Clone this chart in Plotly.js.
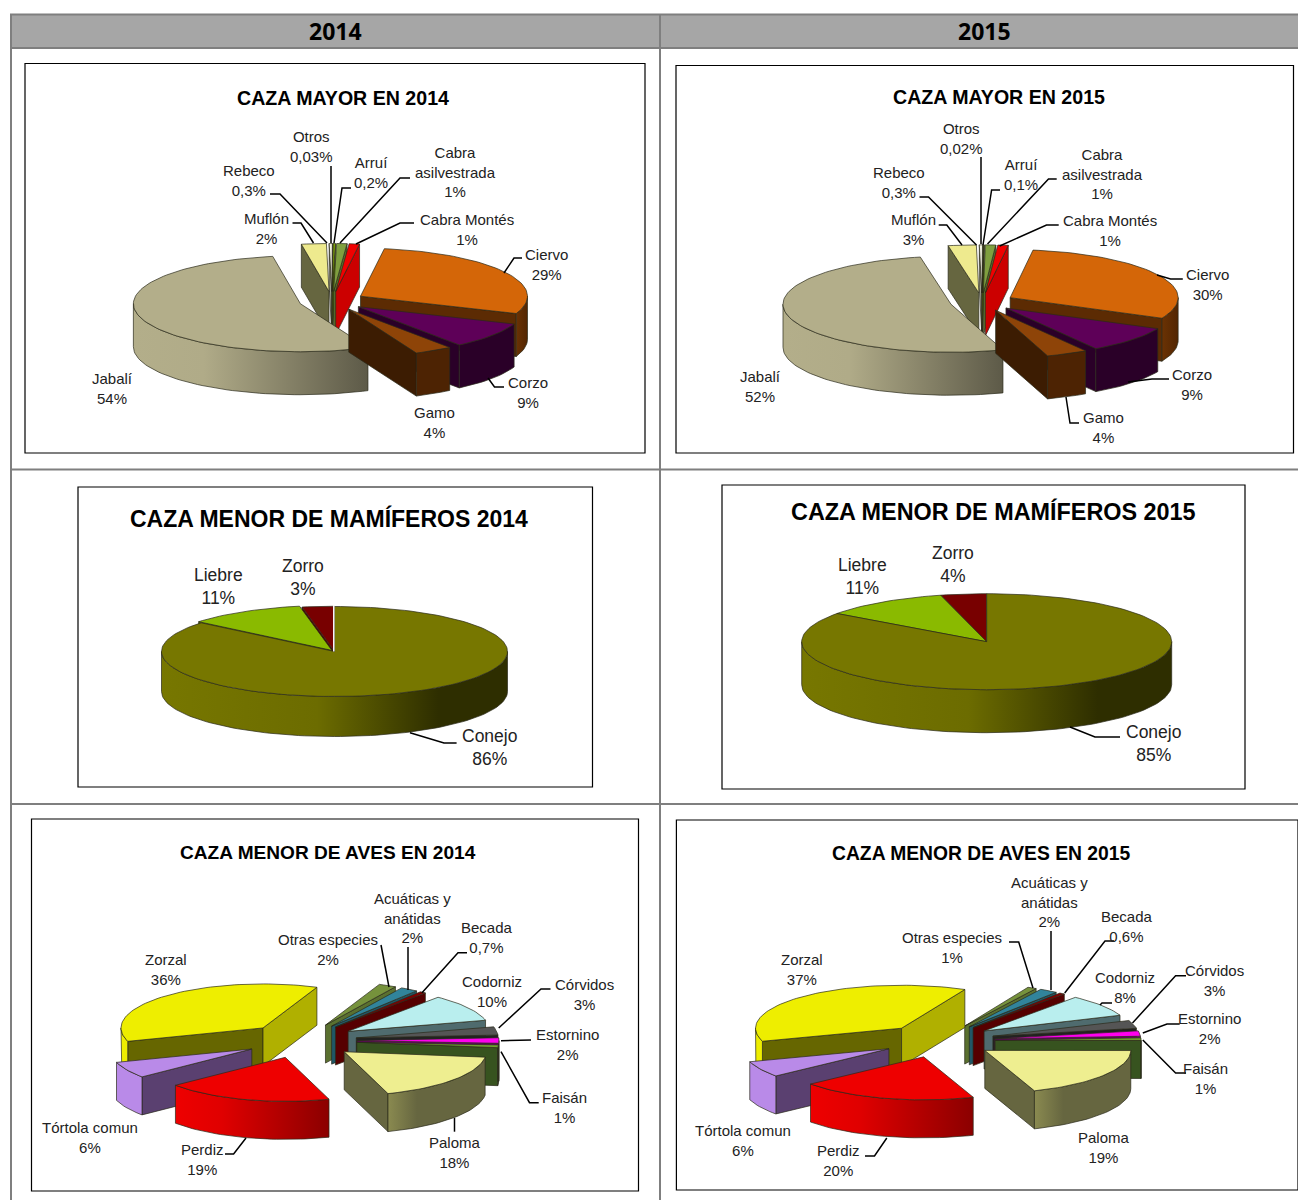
<!DOCTYPE html>
<html><head><meta charset="utf-8">
<script src="https://cdn.plot.ly/plotly-3.0.1.min.js"></script>
<style>html,body{margin:0;padding:0;background:#fff}#c{width:1298px;height:1200px}</style>
</head><body><div id="c"></div>
<script>
// ---- data, clockwise from the chart's first slice ----
const mayorNames = ['Arruí','Cabra asilvestrada','Cabra Montés','Ciervo','Corzo','Gamo','Jabalí','Muflón','Rebeco','Otros'];
const mayor2014Values = [0.2,1,1,28.6,8.8,3.7,54,2.4,0.3,0.03];
const mayor2014Text = ['0,2%','1%','1%','29%','9%','4%','54%','2%','0,3%','0,03%'];
const mayor2015Values = [0.1,1,1,30,9,4,52.3,2.7,0.3,0.02];
const mayor2015Text = ['0,1%','1%','1%','30%','9%','4%','52%','3%','0,3%','0,02%'];
const mamNames = ['Conejo','Liebre','Zorro'];
const mam2014Values = [86,11,3];
const mam2014Text = ['86%','11%','3%'];
const mam2015Values = [85,11,4];
const mam2015Text = ['85%','11%','4%'];
const avesNames = ['Otras especies','Acuáticas y anátidas','Becada','Codorniz','Córvidos','Estornino','Faisán','Paloma','Perdiz','Tórtola comun','Zorzal'];
const aves2014Values = [2,2,0.7,10,3,2,1,18,19,6,36];
const aves2014Text = ['2%','2%','0,7%','10%','3%','2%','1%','18%','19%','6%','36%'];
const aves2015Values = [1,2,0.6,8.3,3,2,1,19.4,19.6,6,37];
const aves2015Text = ['1%','2%','0,6%','8%','3%','2%','1%','19%','20%','6%','37%'];

// ---- styles: top, start wall, end wall, outer wall colour scale ----
const flat = c => [[0,c],[1,c]];
const sliceStyle = {
 'Arruí':['#8fbc00','#5f7d00','#5f7d00',flat('#6f9200')],
 'Cabra asilvestrada':['#7f9f3f','#55702a','#55702a',flat('#6a8530')],
 'Cabra Montés':['#f00000','#c80000','#cc0000',flat('#cc0000')],
 'Ciervo':['#d46608','#5c2b03','#5c2b03',[[0,'#6a3204'],[1,'#532602']]],
 'Corzo':['#5e0058','#2a0028','#2a0028',flat('#2a0028')],
 'Gamo':['#8e4408','#3c1c02','#3c1c02',flat('#4d2303')],
 'Jabalí':['#b3ae8a','#66634e','#66634e',[[0,'#b3ae8a'],[0.3,'#b0ab88'],[1,'#5d5a48']]],
 'Muflón':['#eeea8e','#666640','#666640',flat('#666640')],
 'Rebeco':['#f2f2e0','#a0a090','#a0a090',flat('#a0a090')],
 'Otros':['#f09000','#a06000','#a06000',flat('#a06000')],
 'Conejo':['#777700','#555500','#555500',[[0,'#777700'],[0.45,'#6c6c00'],[0.8,'#2e2e00'],[1,'#2e2e00']]],
 'Liebre':['#8aba00','#5a7a00','#5a7a00',flat('#5a7a00')],
 'Zorro':['#780000','#500000','#500000',flat('#500000')],
 'Otras especies':['#76923c','#5a7030','#5a7030',flat('#5a7030')],
 'Acuáticas y anátidas':['#31849b','#205867','#205867',flat('#205867')],
 'Becada':['#800000','#560000','#560000',flat('#560000')],
 'Codorniz':['#b9eeee','#4f6b6e','#4f6b6e',flat('#4f6b6e')],
 'Córvidos':['#555555','#222222','#222222',flat('#222222')],
 'Estornino':['#ff00ee','#700070','#700070',flat('#700070')],
 'Faisán':['#6fa030','#37531f','#37531f',flat('#37531f')],
 'Paloma':['#eeee90','#666640','#666640',[[0,'#8a8a50'],[0.3,'#666640'],[1,'#666640']]],
 'Perdiz':['#ee0000','#900000','#8b0000',[[0,'#ee0000'],[0.3,'#e00000'],[1,'#8b0000']]],
 'Tórtola comun':['#b98ae8','#5a4070','#5a4070',flat('#b98ae8')],
 'Zorzal':['#eeee00','#666600','#b0b000',flat('#eeee00')]
};

// ---- chart layouts ----
const labelFont = 'Liberation Sans, Arial, sans-serif';
const charts = [
 {names:mayorNames, values:mayor2014Values, text:mayor2014Text, start:0.3, cx:332, cy:301, rx:167, ry:48, depth:43, explode:33,
  box:[25,63.5,645,453], title:'CAZA MAYOR EN 2014', tp:[343,98], tsize:19.6, lsize:15,
  labels:{'Otros':[311,146],'Rebeco':[249,180],'Arruí':[371,172],'Cabra asilvestrada':[455,172],'Cabra Montés':[467,229],'Muflón':[266,228],'Ciervo':[546,264],'Corzo':[528,392],'Gamo':[434,422],'Jabalí':[112,388]},
  leaders:[[[331,166],[331,243]],[[270,194],[280,194],[327,243]],[[351,188],[342,188],[334,243]],[[410,178],[400,178],[340,243]],[[414,223],[400,223],[356,244]],[[292.5,223],[301,223],[313.5,243]],[[522,258],[514,258],[504,273]],[[504,387],[494.5,387],[488,378]]]},
 {names:mayorNames, values:mayor2015Values, text:mayor2015Text, start:0.3, cx:982, cy:302, rx:168, ry:48, depth:43, explode:32,
  box:[676,65.5,1293.5,453], title:'CAZA MAYOR EN 2015', tp:[999,97], tsize:19.6, lsize:15,
  labels:{'Otros':[961,138],'Rebeco':[899,182],'Arruí':[1021,174],'Cabra asilvestrada':[1102,174],'Cabra Montés':[1110,230],'Muflón':[913,229],'Ciervo':[1207,284],'Corzo':[1192,384],'Gamo':[1103,427],'Jabalí':[760,386]},
  leaders:[[[981,157],[981,244]],[[919.5,197],[928.5,197],[976.5,245]],[[1000,190],[991.6,190],[983,245]],[[1056.7,179],[1048.5,179],[987.5,244]],[[1058.7,225],[1046.5,225],[999.7,246]],[[938.7,225],[946.8,225],[962,245]],[[1182.8,279],[1170.6,279],[1157,275]],[[1169,379],[1152,379],[1128,382]],[[1079,423],[1070,423],[1066,397]]]},
 {names:mamNames, values:mam2014Values, text:mam2014Text, start:0, cx:334.5, cy:651.5, rx:173, ry:45, depth:40, explode:[0,5,1],
  box:[78,487,592.5,787], title:'CAZA MENOR DE MAMÍFEROS 2014', tp:[329,518], tsize:23, lsize:17.5,
  labels:{'Liebre':[218,586],'Zorro':[303,577],'Conejo':[489,747]},
  white:[[333.8,605],[333.8,651.5]],
  leaders:[[[456.6,743],[444,743],[410,732.7]]]},
 {names:mamNames, values:mam2015Values, text:mam2015Text, start:0, cx:986.7, cy:641.7, rx:185, ry:48, depth:43, explode:[0,0,0],
  box:[722,485,1245,789], title:'CAZA MENOR DE MAMÍFEROS 2015', tp:[993,511], tsize:23.4, lsize:17.5,
  labels:{'Liebre':[862,576],'Zorro':[953,564],'Conejo':[1153,743]},
  leaders:[[[1120,737],[1095,737],[1070,727]]]},
 {names:avesNames, values:aves2014Values, text:aves2014Text, start:22.3, cx:301, cy:1040.7, rx:142, ry:44, depth:38, explode:56,
  box:[31.5,819,638.5,1191], title:'CAZA MENOR DE AVES EN 2014', tp:[328,852], tsize:19.1, lsize:15,
  labels:{'Otras especies':[328,949],'Acuáticas y anátidas':[412,918],'Becada':[487,937],'Codorniz':[492,991],'Córvidos':[584,994],'Estornino':[567,1044],'Faisán':[564,1107],'Paloma':[455,1152],'Perdiz':[202,1159],'Tórtola comun':[90,1137],'Zorzal':[166,969]},
  leaders:[[[381,945],[389,987]],[[408,947],[408,990]],[[467,952.7],[458,952.7],[422,992.7]],[[550.5,989],[541,989],[498.7,1028]],[[531,1040],[501,1040.7]],[[538.7,1102.7],[529.5,1102.7],[501,1051.7]],[[454.5,1118],[454.5,1131.7]],[[225,1154],[233.6,1154],[246,1138]]]},
 {names:avesNames, values:aves2015Values, text:aves2015Text, start:25.7, cx:938.6, cy:1040.8, rx:146, ry:43, depth:38, explode:56.5,
  box:[676.4,820,1298,1190], title:'CAZA MENOR DE AVES EN 2015', tp:[981,853], tsize:19.3, lsize:15,
  labels:{'Otras especies':[952,947],'Acuáticas y anátidas':[1049,902],'Becada':[1127,926],'Codorniz':[1125,987],'Córvidos':[1214,980],'Estornino':[1209,1028],'Faisán':[1205,1078],'Paloma':[1104,1147],'Perdiz':[838,1160],'Tórtola comun':[743,1140],'Zorzal':[802,969]},
  leaders:[[[1009,942],[1018.7,942],[1033,988]],[[1051,931],[1051,990]],[[1114,941],[1105,941],[1064.7,993]],[[1112,1003],[1102,1003],[1100,1005]],[[1186,975.7],[1175.6,975.7],[1132.5,1023]],[[1179.7,1024],[1167,1024],[1142.8,1033]],[[1186,1073],[1175.6,1073],[1142.8,1040]],[[865,1156],[874.5,1156],[886.8,1138]]]}
];
const labelBreaks = {'Cabra asilvestrada':'Cabra<br>asilvestrada','Acuáticas y anátidas':'Acuáticas y<br>anátidas'};

// ---- build traces from the values ----
const rad = d => d*Math.PI/180;
const traces = [], annotations = [], shapes = [];
function poly(xs, ys, scale, edge){
  traces.push({type:'scatter', mode:'lines', x:xs, y:ys, fill:'toself', hoverinfo:'skip', showlegend:false,
    line:{color:edge, width:0.7},
    fillgradient:{type:'horizontal', colorscale:scale}});
}
function drawPie(ch){
  const total = ch.values.reduce((a,b)=>a+b,0);
  let ang = ch.start;
  const slices = ch.values.map((v,i)=>{
    const span = v/total*360, s = {name:ch.names[i], t1:ang, t2:ang+span, m:ang+span/2,
      e:Array.isArray(ch.explode)?ch.explode[i]:ch.explode};
    ang += span; return s;
  });
  slices.sort((a,b)=>Math.cos(rad(b.m))-Math.cos(rad(a.m)));
  for(const s of slices){
    const st = sliceStyle[s.name];
    const sx = ch.cx + s.e*Math.sin(rad(s.m)), sy = ch.cy - s.e*Math.cos(rad(s.m))*ch.ry/ch.rx;
    const P = t => [sx+ch.rx*Math.sin(rad(t)), sy-ch.ry*Math.cos(rad(t))];
    const edge = '#2a2a1a';
    const radial = (t,c)=>{const p=P(t);
      poly([sx,p[0],p[0],sx,sx],[sy,p[1],p[1]+ch.depth,sy+ch.depth,sy],flat(c),edge);};
    if(Math.sin(rad(s.t1))<-1e-6) radial(s.t1,st[1]);
    if(Math.sin(rad(s.t2))>1e-6) radial(s.t2,st[2]);
    // outer wall, only where it faces the viewer
    for(const [lo,hi] of [[90,270],[450,630]]){
      const a=Math.max(s.t1,lo), b=Math.min(s.t2,hi);
      if(b<=a) continue;
      const n=Math.max(2,Math.ceil((b-a)/2)), xs=[], ys=[];
      for(let k=0;k<=n;k++){const p=P(a+(b-a)*k/n); xs.push(p[0]); ys.push(p[1]);}
      for(let k=n;k>=0;k--){const p=P(a+(b-a)*k/n); xs.push(p[0]); ys.push(p[1]+ch.depth);}
      xs.push(xs[0]); ys.push(ys[0]);
      // the gradient always runs left to right on the page
      poly(xs,ys,st[3],edge);
    }
    // top face
    const n=Math.max(2,Math.ceil((s.t2-s.t1)/2)), xs=[sx], ys=[sy];
    for(let k=0;k<=n;k++){const p=P(s.t1+(s.t2-s.t1)*k/n); xs.push(p[0]); ys.push(p[1]);}
    xs.push(sx); ys.push(sy);
    poly(xs,ys,flat(st[0]),edge);
  }
  // chart frame
  shapes.push({type:'rect',xref:'x',yref:'y',x0:ch.box[0],y0:ch.box[1],x1:ch.box[2],y1:ch.box[3],line:{color:'#000',width:1.2},layer:'below'});
  annotations.push({xref:'x',yref:'y',x:ch.tp[0],y:ch.tp[1],text:'<b>'+ch.title+'</b>',showarrow:false,
    font:{family:labelFont,size:ch.tsize,color:'#000'},xanchor:'center',yanchor:'middle'});
  ch.names.forEach((nm,i)=>{
    const pos=ch.labels[nm]; if(!pos) return;
    annotations.push({xref:'x',yref:'y',x:pos[0],y:pos[1],text:(labelBreaks[nm]||nm)+'<br>'+ch.text[i],showarrow:false,
      font:{family:labelFont,size:ch.lsize,color:'#222'},align:'center',xanchor:'center',yanchor:'middle'});
  });
  for(const l of ch.leaders){
    shapes.push({type:'path',xref:'x',yref:'y',path:'M'+l.map(p=>p[0]+' '+p[1]).join('L'),line:{color:'#000',width:1.5},layer:'above'});
  }
  if(ch.white) shapes.push({type:'path',xref:'x',yref:'y',path:'M'+ch.white.map(p=>p[0]+' '+p[1]).join('L'),line:{color:'#fff',width:1.5},layer:'above'});
}
charts.forEach(drawPie);

// ---- table frame ----
const grid='#7f7f7f';
shapes.push({type:'rect',xref:'x',yref:'y',x0:11,y0:14.5,x1:1299,y1:48,fillcolor:'#a6a6a6',line:{color:grid,width:2},layer:'below'});
[[11,14,11,1200],[660,14,660,1200],[11,469.5,1298,469.5],[11,804,1298,804]].forEach(q=>
  shapes.push({type:'line',xref:'x',yref:'y',x0:q[0],y0:q[1],x1:q[2],y1:q[3],line:{color:grid,width:2},layer:'below'}));
[['2014',335],['2015',984]].forEach(h=>annotations.push({xref:'x',yref:'y',x:h[1],y:30.5,text:'<b>'+h[0]+'</b>',showarrow:false,
  font:{family:'Noto Sans, Open Sans, sans-serif',size:23,color:'#000'},xanchor:'center',yanchor:'middle'}));

Plotly.newPlot('c',traces,{
  width:1298,height:1200,autosize:false,margin:{l:0,r:0,t:0,b:0},showlegend:false,
  paper_bgcolor:'#fff',plot_bgcolor:'#fff',
  xaxis:{range:[0,1298],visible:false,fixedrange:true},
  yaxis:{range:[1200,0],visible:false,fixedrange:true},
  shapes,annotations
},{displayModeBar:false,staticPlot:true});
</script></body></html>
